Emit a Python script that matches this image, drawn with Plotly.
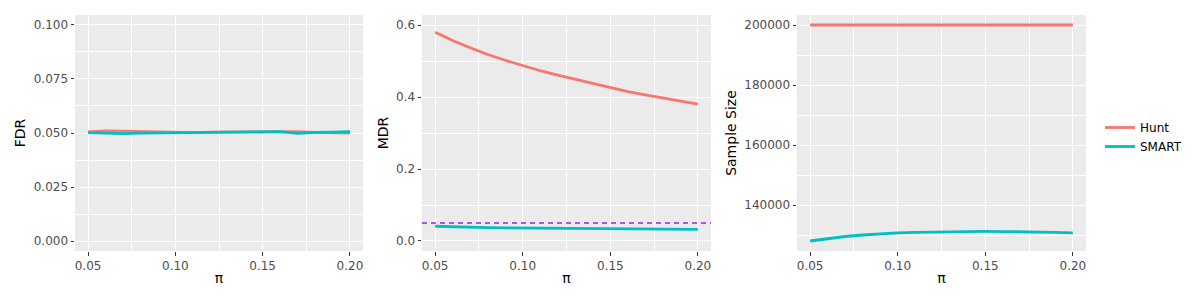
import plotly.graph_objects as go

# ---- data ----
pi_vals = [0.05, 0.06, 0.07, 0.08, 0.09, 0.10, 0.11, 0.12, 0.13, 0.14, 0.15, 0.16, 0.17, 0.18, 0.19, 0.20]

fdr_hunt = [0.0505, 0.0510, 0.0509, 0.0507, 0.0504, 0.0501, 0.0502, 0.0504, 0.0505, 0.0506, 0.0507, 0.0507, 0.0506, 0.0503, 0.0502, 0.0500]
fdr_smart = [0.0502, 0.0500, 0.0497, 0.0499, 0.0500, 0.0500, 0.0500, 0.0502, 0.0503, 0.0505, 0.0505, 0.0506, 0.0498, 0.0503, 0.0504, 0.0506]

mdr_hunt = [0.580, 0.557, 0.537, 0.518, 0.502, 0.487, 0.473, 0.461, 0.449, 0.437, 0.425, 0.415, 0.406, 0.397, 0.388, 0.380]
mdr_smart = [0.041, 0.039, 0.038, 0.037, 0.0365, 0.036, 0.0355, 0.035, 0.0345, 0.034, 0.0335, 0.033, 0.033, 0.0325, 0.0322, 0.032]

n_hunt = [200000] * 16
n_smart = [128000, 128800, 129500, 130000, 130400, 130700, 130900, 131000, 131100, 131150, 131200, 131150, 131100, 131050, 130900, 130700]

mdr_target = 0.05

x_ticks = [0.05, 0.10, 0.15, 0.20]
fdr_ticks = [0.000, 0.025, 0.050, 0.075, 0.100]
mdr_ticks = [0.0, 0.2, 0.4, 0.6]
n_ticks = [140000, 160000, 180000, 200000]

methods = ["Hunt", "SMART"]
colors = {"Hunt": "#F8766D", "SMART": "#00BFC4"}

FONT = "DejaVu Sans"

fig = go.Figure()

panels = [
    ("x", "y", {"Hunt": fdr_hunt, "SMART": fdr_smart}),
    ("x2", "y2", {"Hunt": mdr_hunt, "SMART": mdr_smart}),
    ("x3", "y3", {"Hunt": n_hunt, "SMART": n_smart}),
]
for i, (xa, ya, series) in enumerate(panels):
    for m in methods:
        fig.add_trace(go.Scatter(
            x=pi_vals, y=series[m], mode="lines", name=m,
            line=dict(color=colors[m], width=2.8),
            xaxis=xa, yaxis=ya, showlegend=(i == 2),
        ))

fig.add_shape(type="line", xref="x2 domain", yref="y2", x0=0, x1=1,
              y0=mdr_target, y1=mdr_target,
              line=dict(color="#A020F0", width=1.3, dash="5px,4px"))

H = 300.0
W = 1200.0
OFF = 8  # page body margin offset
ydom = [1 - (251 - OFF) / H, 1 - (15 - OFF) / H]
xdoms = [[(75 - OFF) / W, (363 - OFF) / W],
         [(422 - OFF) / W, (711 - OFF) / W],
         [(797 - OFF) / W, (1086 - OFF) / W]]

def xaxis_cfg(dom, anchor):
    return dict(
        domain=dom, anchor=anchor, range=[0.0425, 0.2075], automargin=False,
        tickvals=x_ticks, ticktext=["0.05", "0.10", "0.15", "0.20"],
        showgrid=True, gridcolor="white", gridwidth=1.1,
        minor=dict(showgrid=True, gridcolor="white", gridwidth=0.5, tick0=0.025, dtick=0.05, ticks=""),
        ticks="outside", ticklen=3.5, tickcolor="#333333", tickwidth=1,
        tickfont=dict(family=FONT, size=12, color="#4D4D4D"),
        title=dict(text="π", font=dict(family=FONT, size=14, color="black"), standoff=1),
        zeroline=False, showline=False,
    )

def yaxis_cfg(anchor, rng, tickvals, ticktext, minor_tick0, minor_dtick, title):
    return dict(
        domain=ydom, anchor=anchor, range=rng, automargin=False,
        tickvals=tickvals, ticktext=ticktext,
        showgrid=True, gridcolor="white", gridwidth=1.1,
        minor=dict(showgrid=True, gridcolor="white", gridwidth=0.5, tick0=minor_tick0, dtick=minor_dtick, ticks=""),
        ticks="outside", ticklen=3.5, tickcolor="#333333", tickwidth=1,
        tickfont=dict(family=FONT, size=12, color="#4D4D4D"),
        title=dict(text=title, font=dict(family=FONT, size=14, color="black"), standoff=4),
        zeroline=False, showline=False,
    )

fig.update_layout(
    width=1200, height=300,
    margin=dict(l=0, r=0, t=0, b=0),
    paper_bgcolor="white", plot_bgcolor="#EBEBEB",
    font=dict(family=FONT),
    xaxis=xaxis_cfg(xdoms[0], "y"),
    xaxis2=xaxis_cfg(xdoms[1], "y2"),
    xaxis3=xaxis_cfg(xdoms[2], "y3"),
    yaxis=yaxis_cfg("x", [-0.0046, 0.1046], fdr_ticks,
                    ["%.3f" % v for v in fdr_ticks], 0.0125, 0.025, "FDR"),
    yaxis2=yaxis_cfg("x2", [-0.0278, 0.6278], mdr_ticks,
                     ["%.1f" % v for v in mdr_ticks], 0.1, 0.2, "MDR"),
    yaxis3=yaxis_cfg("x3", [124667, 203333], n_ticks,
                     [str(v) for v in n_ticks], 130000, 20000, "Sample Size"),
    legend=dict(x=(1100 - OFF) / W, y=1 - (137 - OFF) / H, xanchor="left", yanchor="middle",
                font=dict(family=FONT, size=12, color="black"),
                bgcolor="rgba(0,0,0,0)", tracegroupgap=0, itemwidth=30),
)

fig.write_html("out.html")
